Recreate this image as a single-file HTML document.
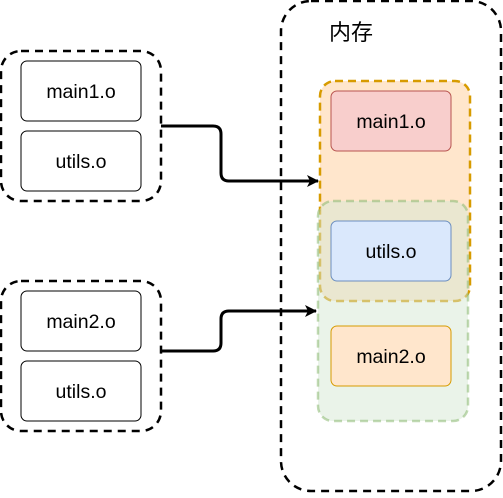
<!DOCTYPE html>
<html><head><meta charset="utf-8"><style>
html,body{margin:0;padding:0;background:#fff;}
svg text{font-family:"Liberation Sans","Noto Sans CJK SC",sans-serif;}
</style></head><body>
<svg width="503" height="493" viewBox="0 0 503 493" xmlns="http://www.w3.org/2000/svg">
<defs>
<marker id="ah" markerWidth="14" markerHeight="14" refX="11" refY="6" orient="auto" markerUnits="userSpaceOnUse">
<path d="M0,0 L12,6 L0,12 L3,6 Z" fill="#000"/>
</marker>
</defs>
<rect x="281" y="1" width="220" height="490" rx="30" fill="none" stroke="#000" stroke-width="2.5" stroke-dasharray="8 6"/>
<text x="351" y="40" font-size="22" text-anchor="middle">内存</text>
<rect x="320" y="81" width="150" height="220" rx="15" fill="#ffe6cc" stroke="#d79b00" stroke-width="2.5" stroke-dasharray="8 5"/>
<rect x="318" y="201" width="150" height="220" rx="15" fill="#d5e8d4" fill-opacity="0.5" stroke="#82b366" stroke-opacity="0.5" stroke-width="2.5" stroke-dasharray="8 5"/>
<rect x="331" y="91" width="120" height="60" rx="6" fill="#f8cecc" stroke="#b85450"/>
<text x="391" y="128" font-size="19.5" text-anchor="middle">main1.o</text>
<rect x="331" y="221" width="120" height="60" rx="6" fill="#dae8fc" stroke="#6c8ebf"/>
<text x="391" y="258" font-size="19.5" text-anchor="middle">utils.o</text>
<rect x="331" y="326" width="120" height="60" rx="6" fill="#ffe6cc" stroke="#d79b00"/>
<text x="391" y="363" font-size="19.5" text-anchor="middle">main2.o</text>
<rect x="1" y="51" width="160" height="150" rx="20" fill="none" stroke="#000" stroke-width="2.5" stroke-dasharray="8 6"/>
<rect x="21" y="61" width="120" height="60" rx="6" fill="#fff" stroke="#000"/>
<text x="81" y="98" font-size="19.5" text-anchor="middle">main1.o</text>
<rect x="21" y="131" width="120" height="60" rx="6" fill="#fff" stroke="#000"/>
<text x="81" y="168" font-size="19.5" text-anchor="middle">utils.o</text>
<rect x="1" y="281" width="160" height="150" rx="20" fill="none" stroke="#000" stroke-width="2.5" stroke-dasharray="8 6"/>
<rect x="21" y="291" width="120" height="60" rx="6" fill="#fff" stroke="#000"/>
<text x="81" y="328" font-size="19.5" text-anchor="middle">main2.o</text>
<rect x="21" y="361" width="120" height="60" rx="6" fill="#fff" stroke="#000"/>
<text x="81" y="398" font-size="19.5" text-anchor="middle">utils.o</text>
<path d="M161,126 L213,126 Q221,126 221,134 L221,173 Q221,181 229,181 L318,181" fill="none" stroke="#000" stroke-width="3" marker-end="url(#ah)"/>
<path d="M161,351 L213,351 Q221,351 221,343 L221,319 Q221,311 229,311 L316,311" fill="none" stroke="#000" stroke-width="3" marker-end="url(#ah)"/>
</svg>
</body></html>
